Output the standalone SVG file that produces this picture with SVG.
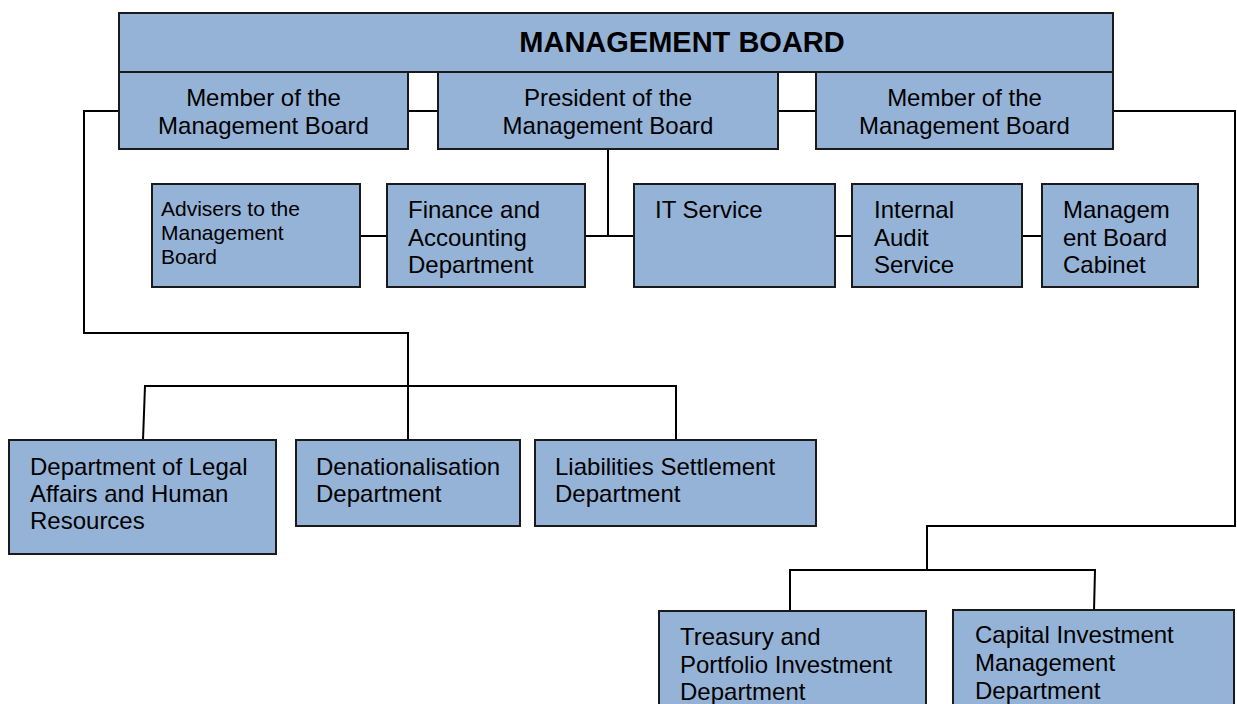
<svg xmlns="http://www.w3.org/2000/svg" width="1237" height="704" viewBox="0 0 1237 704">
  <style>
    .box { fill: #95B3D7; stroke: #1a1a1a; stroke-width: 2; }
    .wire { fill: none; stroke: #000; stroke-width: 2; }
    text { font-family: "Liberation Sans", Arial, sans-serif; font-size: 24px; fill: #000; }
    .title { font-size: 29px; font-weight: bold; }
    .mid { text-anchor: middle; }
    .small { font-size: 21px; }
  </style>
  <rect width="1237" height="704" fill="#fff"/>

  <!-- connectors -->
  <g id="connectors">
    <polyline class="wire" points="119,111 84,111 84,333 408,333 408,440"/>
    <polyline class="wire" points="143,440 145,386 676,386 676,440"/>
    <line class="wire" x1="408" y1="111" x2="438" y2="111"/>
    <line class="wire" x1="778" y1="111" x2="816" y2="111"/>
    <polyline class="wire" points="1113,111 1235,111 1235,526 927,526 927,570"/>
    <polyline class="wire" points="790,611 790,570 1095,570 1094,611"/>
    <polyline class="wire" points="608,149 608,236"/>
    <line class="wire" x1="360" y1="236" x2="387" y2="236"/>
    <line class="wire" x1="585" y1="236" x2="634" y2="236"/>
    <line class="wire" x1="835" y1="236" x2="852" y2="236"/>
    <line class="wire" x1="1022" y1="236" x2="1042" y2="236"/>
  </g>

  <g id="board">
    <rect class="box" x="119" y="13" width="994" height="59"/>
    <text class="title mid" x="682" y="52">MANAGEMENT BOARD</text>
  </g>

  <g id="member-left">
    <rect class="box" x="119" y="72" width="289" height="77"/>
    <text class="mid" x="263.5" y="105.5">Member of the</text>
    <text class="mid" x="263.5" y="133.5">Management Board</text>
  </g>

  <g id="president">
    <rect class="box" x="438" y="72" width="340" height="77"/>
    <text class="mid" x="608" y="105.5">President of the</text>
    <text class="mid" x="608" y="133.5">Management Board</text>
  </g>

  <g id="member-right">
    <rect class="box" x="816" y="72" width="297" height="77"/>
    <text class="mid" x="964.5" y="105.5">Member of the</text>
    <text class="mid" x="964.5" y="133.5">Management Board</text>
  </g>

  <g id="advisers">
    <rect class="box" x="152" y="184" width="208" height="103"/>
    <text class="small" x="161" y="215.5">Advisers to the</text>
    <text class="small" x="161" y="239.5">Management</text>
    <text class="small" x="161" y="263.5">Board</text>
  </g>

  <g id="finance">
    <rect class="box" x="387" y="184" width="198" height="103"/>
    <text x="408" y="217.5">Finance and</text>
    <text x="408" y="245.5">Accounting</text>
    <text x="408" y="272.5">Department</text>
  </g>

  <g id="it-service">
    <rect class="box" x="634" y="184" width="201" height="103"/>
    <text x="655" y="217.5">IT Service</text>
  </g>

  <g id="internal-audit">
    <rect class="box" x="852" y="184" width="170" height="103"/>
    <text x="874" y="217.5">Internal</text>
    <text x="874" y="245.5">Audit</text>
    <text x="874" y="272.5">Service</text>
  </g>

  <g id="board-cabinet">
    <rect class="box" x="1042" y="184" width="156" height="103"/>
    <text x="1063" y="217.5">Managem</text>
    <text x="1063" y="245.5">ent Board</text>
    <text x="1063" y="272.5">Cabinet</text>
  </g>

  <g id="legal-hr">
    <rect class="box" x="9" y="440" width="267" height="114"/>
    <text x="30" y="474.5">Department of Legal</text>
    <text x="30" y="502">Affairs and Human</text>
    <text x="30" y="529">Resources</text>
  </g>

  <g id="denationalisation">
    <rect class="box" x="296" y="440" width="224" height="86"/>
    <text x="316" y="474.5">Denationalisation</text>
    <text x="316" y="502">Department</text>
  </g>

  <g id="liabilities">
    <rect class="box" x="535" y="440" width="281" height="86"/>
    <text x="555" y="474.5">Liabilities Settlement</text>
    <text x="555" y="502">Department</text>
  </g>

  <g id="treasury">
    <rect class="box" x="659" y="611" width="267" height="100"/>
    <text x="680" y="644.5">Treasury and</text>
    <text x="680" y="672.5">Portfolio Investment</text>
    <text x="680" y="699.5">Department</text>
  </g>

  <g id="capital-investment">
    <rect class="box" x="953" y="610" width="281" height="100"/>
    <text x="975" y="643">Capital Investment</text>
    <text x="975" y="671">Management</text>
    <text x="975" y="698.5">Department</text>
  </g>
</svg>
